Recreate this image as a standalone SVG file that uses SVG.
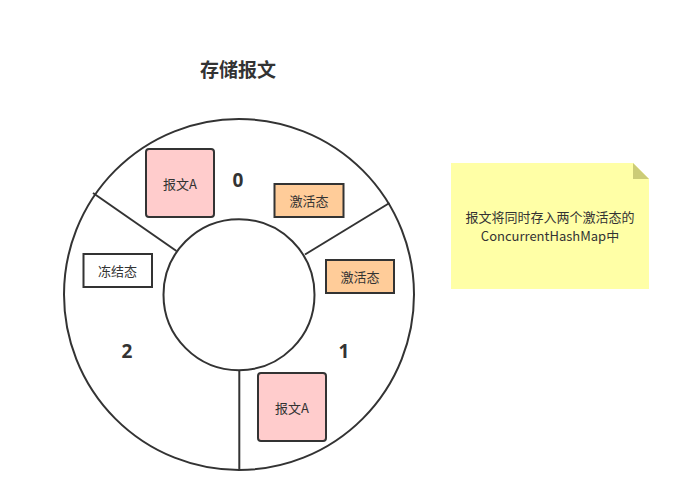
<svg xmlns="http://www.w3.org/2000/svg" width="681" height="502" viewBox="0 0 681 502">
<style>
.ring{fill:#fff;stroke:#333;stroke-width:2}
.sep{stroke:#333;stroke-width:2;fill:none}
.msg{fill:#ffcccc;stroke:#333;stroke-width:2}
.act{fill:#ffcc99;stroke:#333;stroke-width:2}
.frz{fill:#fff;stroke:#333;stroke-width:2}
.t{font-family:"Noto Sans CJK SC","Noto Sans",sans-serif;font-size:13px;fill:#333;text-anchor:middle;dominant-baseline:central}
.num{font-family:"Open Sans","Liberation Sans",sans-serif;font-size:19px;font-weight:bold;fill:#333;text-anchor:middle;dominant-baseline:central}
.title{font-family:"Noto Sans CJK SC",sans-serif;font-size:19px;font-weight:bold;fill:#333;text-anchor:middle;dominant-baseline:central}
</style>
<rect width="681" height="502" fill="#fff"/>
<text class="title" x="238" y="68">存储报文</text>
<g id="ring">
<ellipse class="ring" cx="239" cy="294.5" rx="175" ry="175.5"/>
<ellipse class="ring" cx="239" cy="294.7" rx="75.5" ry="75.5"/>
</g>
<g id="connectors">
<line class="sep" x1="93" y1="193" x2="176.5" y2="251"/>
<line class="sep" x1="389.5" y1="203" x2="305" y2="254.5"/>
<line class="sep" x1="239.3" y1="370" x2="239.3" y2="470"/>
</g>
<g id="seg0"><text class="num" x="238" y="180">0</text></g>
<g id="seg1"><text class="num" x="344" y="351">1</text></g>
<g id="seg2"><text class="num" x="127" y="351">2</text></g>
<g id="msgA0"><rect class="msg" x="146" y="149" width="68" height="68" rx="3"/><text class="t" x="180" y="183">报文A</text></g>
<g id="act0"><rect class="act" x="274.5" y="184" width="69" height="33"/><text class="t" x="309" y="200.5">激活态</text></g>
<g id="act1"><rect class="act" x="326" y="260" width="68" height="33"/><text class="t" x="360" y="276.5">激活态</text></g>
<g id="frozen"><rect class="frz" x="83.5" y="254" width="68.5" height="33"/><text class="t" x="117.5" y="270.5">冻结态</text></g>
<g id="msgA1"><rect class="msg" x="258" y="373" width="68" height="68" rx="3"/><text class="t" x="292" y="407">报文A</text></g>
<g id="note">
<path d="M451 163 H633 L649 179 V289 H451 Z" fill="#ffffa6"/>
<path d="M633 163 L649 179 H633 Z" fill="#cccc77"/>
<text class="t" x="550" y="216.5">报文将同时存入两个激活态的</text>
<text class="t" x="550" y="235">ConcurrentHashMap中</text>
</g>
</svg>
